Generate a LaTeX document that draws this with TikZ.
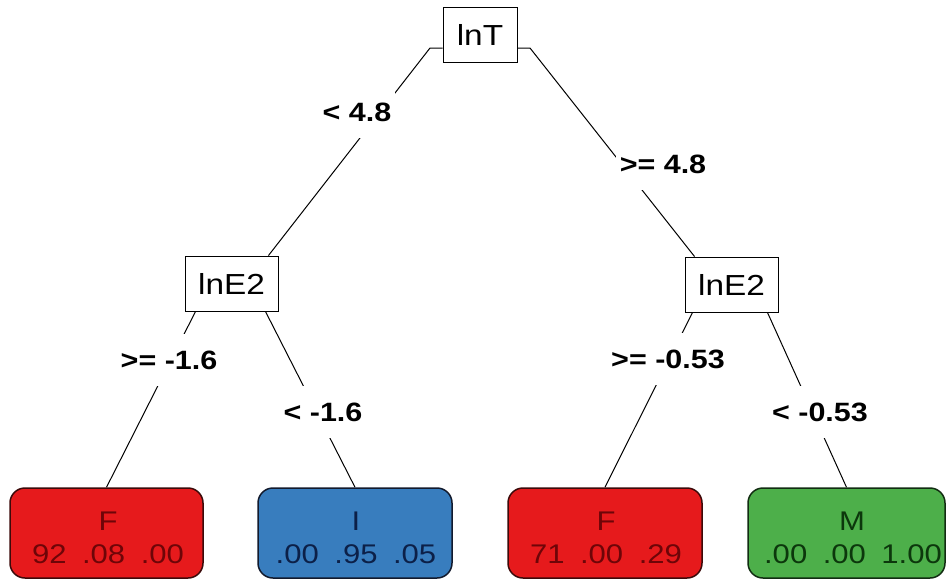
\documentclass[tikz,border=0pt]{standalone}
\usepackage{fontspec}
\setmainfont{Liberation Sans}
\usepackage{graphicx}
\definecolor{lred}{RGB}{230,26,28}
\definecolor{lredd}{RGB}{60,10,10}
\definecolor{lredt}{RGB}{110,5,8}
\definecolor{lblue}{RGB}{56,125,190}
\definecolor{lblued}{RGB}{18,26,45}
\definecolor{lbluet}{RGB}{12,32,72}
\definecolor{lgreen}{RGB}{77,175,74}
\definecolor{lgreend}{RGB}{18,45,18}
\definecolor{lgreent}{RGB}{12,55,12}
\newcommand{\wx}[1]{\scalebox{1.15}[1]{#1}}
\newcommand{\gp}{\hspace{0.5em}}
\tikzset{
  splitbox/.style={draw, line width=0.9pt, minimum width=#1, minimum height=55pt, inner sep=0pt, font=\fontsize{29}{29}\selectfont},
  leafbox/.style={draw, line width=1.5pt, rounded corners=15pt, minimum width=#1, minimum height=90pt, inner sep=0pt},
  leaftext/.style={inner sep=0pt, font=\fontsize{27}{27}\selectfont},
  edge/.style={line width=1pt, black},
  cond/.style={fill=white, inner xsep=4pt, inner ysep=17pt, font=\bfseries\fontsize{26.5}{26.5}\selectfont}
}
\begin{document}
\begin{tikzpicture}[x=1pt,y=-1pt]
\useasboundingbox[fill=white] (0,0) rectangle (950,582);
% split nodes
\node[splitbox=74pt] (t) at (480,34.5) {\wx{lnT}};
\node[splitbox=93pt] (e1) at (231.5,283.5) {\wx{lnE2}};
\node[splitbox=93pt] (e2) at (731.5,284.5) {\wx{lnE2}};
% leaves
\node[leafbox=193pt, fill=lred, draw=lredd] (l1) at (106.5,533) {};
\node[leafbox=194pt, fill=lblue, draw=lblued] (l2) at (355,533) {};
\node[leafbox=194pt, fill=lred, draw=lredd] (l3) at (605,533) {};
\node[leafbox=197pt, fill=lgreen, draw=lgreend] (l4) at (846.5,533) {};
\node[leaftext, text=lredt] (l1a) at (108,521) {\wx{F}};
\node[leaftext, text=lredt] (l1b) at (108,554) {\wx{92\gp.08\gp.00}};
\node[leaftext, text=lbluet] (l2a) at (356,521) {\wx{I}};
\node[leaftext, text=lbluet] (l2b) at (356,554) {\wx{.00\gp.95\gp.05}};
\node[leaftext, text=lredt] (l3a) at (606,521) {\wx{F}};
\node[leaftext, text=lredt] (l3b) at (606,554) {\wx{71\gp.00\gp.29}};
\node[leaftext, text=lgreent] (l4a) at (852,521) {\wx{M}};
\node[leaftext, text=lgreent] (l4b) at (853,554) {\wx{.00\gp.00\gp1.00}};
% connectors
\coordinate (tL) at (430,48);
\coordinate (tR) at (530,48);
\draw[edge] (t.west |- tL) -- (tL) -- ([xshift=-10pt]e1.north east);
\draw[edge] (t.east |- tR) -- (tR) -- ([xshift=10pt]e2.north west);
\draw[edge] ([xshift=11pt]e1.south west) -- (l1.north);
\draw[edge] ([xshift=-13pt]e1.south east) -- (l2.north);
\draw[edge] ([xshift=8pt]e2.south west) -- (l3.north);
\draw[edge] ([xshift=-11pt]e2.south east) -- (l4.north);
% split labels
\node[cond] (c1) at (357,112) {\wx{< 4.8}};
\node[cond] (c2) at (663,164) {\wx{>= 4.8}};
\node[cond] (c3) at (169,360) {\wx{>= -1.6}};
\node[cond] (c4) at (323,412) {\wx{< -1.6}};
\node[cond] (c5) at (668,359) {\wx{>= -0.53}};
\node[cond] (c6) at (820,412) {\wx{< -0.53}};
\end{tikzpicture}
\end{document}
